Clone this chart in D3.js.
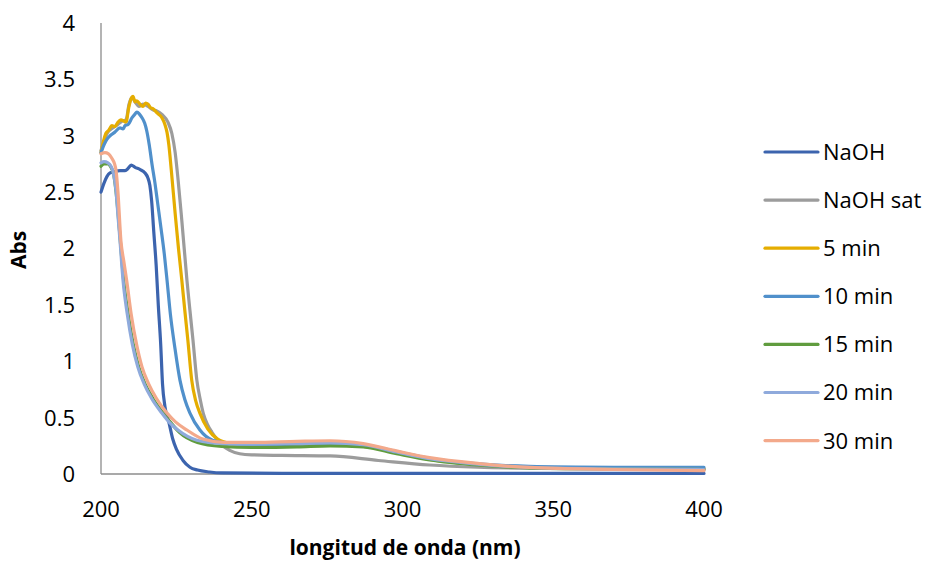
<!DOCTYPE html>
<html>
<head>
<meta charset="utf-8">
<script src="https://cdn.jsdelivr.net/npm/d3@7"></script>
<style>
  html, body { margin: 0; padding: 0; background: #fff; }
  svg { display: block; }
  text { font-family: "Open Sans", sans-serif; fill: #000; }
</style>
</head>
<body>
<svg id="chart" width="930" height="562"></svg>
<script>
// ---- data (wavelength nm, absorbance) ----
const seriesNames = ["NaOH", "NaOH sat", "5 min", "10 min", "15 min", "20 min", "30 min"];
const seriesColors = ["#3C64AE", "#9C9C9C", "#E5AD00", "#5090CB", "#609C3E", "#8FAADC", "#F3A98B"];

const naoh = [[200,2.50],[201,2.58],[202,2.64],[203,2.67],[204.3,2.68],[206.3,2.69],[208,2.69],[209,2.71],[210,2.74],[211.3,2.72],[213,2.70],[214.6,2.67],[215.5,2.63],[216.2,2.56],[216.8,2.42],[217.5,2.15],[218.3,1.85],[219,1.50],[219.8,1.15],[220.4,0.80],[221.2,0.60],[222.6,0.45],[223.8,0.31],[225,0.22],[227.2,0.12],[229.5,0.06],[232,0.035],[236,0.018],[240,0.01],[260,0.006],[300,0.005],[400,0.005]];

const naohSat = [[200,2.87],[201,2.95],[202,3.02],[204,3.07],[205.6,3.10],[207,3.13],[208.3,3.14],[209.3,3.28],[210.3,3.34],[211.3,3.30],[212.6,3.26],[213.9,3.28],[215.6,3.26],[217.2,3.23],[218.5,3.22],[220.2,3.19],[222.2,3.12],[223.5,3.02],[224.6,2.85],[225.6,2.60],[226.8,2.25],[228.5,1.72],[229.5,1.45],[230.5,1.19],[231.8,0.83],[233,0.65],[234,0.53],[235.3,0.44],[236.8,0.37],[238.7,0.30],[240.4,0.25],[242.7,0.21],[246,0.18],[250,0.17],[260,0.165],[276,0.16],[292,0.12],[309,0.08],[325,0.06],[345,0.05],[370,0.045],[400,0.045]];

const min5 = [[200,2.85],[200.8,2.95],[201.6,3.02],[202.6,3.05],[203.6,3.09],[204.6,3.08],[205.6,3.12],[206.6,3.14],[207.6,3.13],[208.3,3.12],[209.2,3.25],[210,3.33],[210.6,3.35],[211.3,3.30],[211.9,3.31],[212.9,3.28],[213.9,3.26],[214.8,3.29],[215.6,3.28],[216.4,3.25],[217.2,3.24],[218.7,3.20],[220.2,3.16],[221.2,3.10],[221.9,3.03],[222.5,2.92],[223.3,2.70],[224.6,2.31],[225.7,2.00],[226.8,1.72],[227.8,1.45],[228.8,1.19],[230.1,0.83],[231.4,0.65],[232.8,0.54],[235.4,0.40],[238.7,0.31],[243.7,0.265],[250,0.245],[265,0.25],[276,0.255],[287,0.245],[298,0.19],[309,0.13],[325,0.085],[342,0.06],[370,0.05],[400,0.045]];

const min10 = [[200,2.85],[201,2.92],[202,2.97],[203,3.00],[204.5,3.03],[206.3,3.07],[207.3,3.06],[208,3.09],[209,3.10],[210.3,3.16],[211.2,3.19],[211.9,3.21],[212.8,3.19],[213.6,3.16],[214.5,3.11],[215.2,3.04],[216,2.92],[216.9,2.75],[217.9,2.58],[218.8,2.40],[219.9,2.18],[221,1.95],[221.9,1.72],[223,1.42],[224.5,1.12],[226.2,0.83],[227.8,0.66],[229.5,0.54],[232.8,0.39],[237,0.30],[242.7,0.27],[250,0.26],[265,0.265],[276,0.27],[287,0.255],[298,0.20],[309,0.14],[325,0.09],[342,0.068],[370,0.06],[400,0.058]];

const min15 = [[200,2.73],[201,2.75],[202.3,2.75],[203.3,2.72],[204.2,2.66],[205,2.50],[205.7,2.30],[206.4,2.07],[207.5,1.72],[209,1.42],[210.7,1.15],[212.5,0.95],[214.6,0.80],[217.2,0.67],[220.6,0.54],[223,0.46],[226,0.37],[232,0.28],[240,0.245],[250,0.235],[265,0.24],[276,0.25],[287,0.24],[298,0.18],[309,0.125],[325,0.08],[342,0.055],[370,0.045],[400,0.04]];

const min20 = [[200,2.76],[201,2.77],[202.3,2.76],[203.3,2.73],[204,2.68],[205,2.51],[205.6,2.30],[206.3,2.07],[207.3,1.72],[208.7,1.42],[210.4,1.15],[212.2,0.95],[214.3,0.80],[216.8,0.67],[220.2,0.54],[222.6,0.46],[225.5,0.39],[231.8,0.30],[240.4,0.27],[250,0.265],[265,0.27],[276,0.275],[287,0.26],[298,0.195],[309,0.135],[325,0.088],[342,0.058],[370,0.045],[400,0.04]];

const min30 = [[200,2.84],[201.3,2.85],[202.5,2.84],[203.6,2.80],[204.5,2.75],[205,2.69],[205.6,2.51],[206.6,2.07],[207.6,1.88],[208.6,1.70],[210.0,1.42],[211.8,1.15],[213.6,0.95],[215.8,0.80],[218.4,0.67],[221.9,0.54],[224.8,0.46],[228.5,0.39],[233.8,0.31],[241,0.28],[250,0.28],[265,0.29],[276,0.295],[287,0.27],[298,0.205],[309,0.145],[325.5,0.092],[342,0.058],[370,0.04],[400,0.03]];

const seriesData = [naoh, naohSat, min5, min10, min15, min20, min30];

const xTicks = [200, 250, 300, 350, 400];
const yTicks = [0, 0.5, 1, 1.5, 2, 2.5, 3, 3.5, 4];
const xTitle = "longitud de onda (nm)";
const yTitle = "Abs";

// ---- drawing ----
const svg = d3.select("#chart");
const plot = { left: 101, right: 704, top: 23, bottom: 474 };

const x = d3.scaleLinear().domain([200, 400]).range([plot.left, plot.right]);
const y = d3.scaleLinear().domain([0, 4]).range([plot.bottom, plot.top]);

// axes lines
const axisColor = "#8C8C8C";
svg.append("line")
  .attr("x1", x(200)).attr("x2", x(200))
  .attr("y1", y(4)).attr("y2", y(0))
  .attr("stroke", axisColor).attr("stroke-width", 1.3);
svg.append("line")
  .attr("x1", x(200)).attr("x2", x(400))
  .attr("y1", y(0)).attr("y2", y(0))
  .attr("stroke", axisColor).attr("stroke-width", 1.3);

// y tick labels
svg.append("g").selectAll("text").data(yTicks).join("text")
  .attr("x", 75)
  .attr("y", d => y(d))
  .attr("dy", "0.36em")
  .attr("text-anchor", "end")
  .style("font-size", "22px")
  .text(d => String(d));

// x tick labels
svg.append("g").selectAll("text").data(xTicks).join("text")
  .attr("x", d => x(d))
  .attr("y", 517)
  .attr("text-anchor", "middle")
  .style("font-size", "22px")
  .text(d => String(d));

// axis titles
svg.append("text")
  .attr("x", 405).attr("y", 555)
  .attr("text-anchor", "middle")
  .style("font-size", "21px").style("font-weight", "bold")
  .text(xTitle);
svg.append("text")
  .attr("transform", "translate(26,250) rotate(-90)")
  .attr("text-anchor", "middle")
  .style("font-size", "21px").style("font-weight", "bold")
  .text(yTitle);

// series lines
const line = d3.line()
  .x(d => x(d[0]))
  .y(d => y(d[1]))
  .curve(d3.curveMonotoneX);

svg.append("g").selectAll("path").data(seriesData).join("path")
  .attr("d", d => line(d))
  .attr("fill", "none")
  .attr("stroke", (d, i) => seriesColors[i])
  .attr("stroke-width", 3.2)
  .attr("stroke-linejoin", "round")
  .attr("stroke-linecap", "round");

// legend
const legend = svg.append("g");
const legY0 = 152, legStep = 48.1;
seriesNames.forEach((name, i) => {
  const ly = legY0 + i * legStep;
  legend.append("line")
    .attr("x1", 765).attr("x2", 818)
    .attr("y1", ly).attr("y2", ly)
    .attr("stroke", seriesColors[i]).attr("stroke-width", 3.2)
    .attr("stroke-linecap", "round");
  legend.append("text")
    .attr("x", 823).attr("y", ly)
    .attr("dy", "0.36em")
    .style("font-size", "22px")
    .text(name);
});
</script>
</body>
</html>
